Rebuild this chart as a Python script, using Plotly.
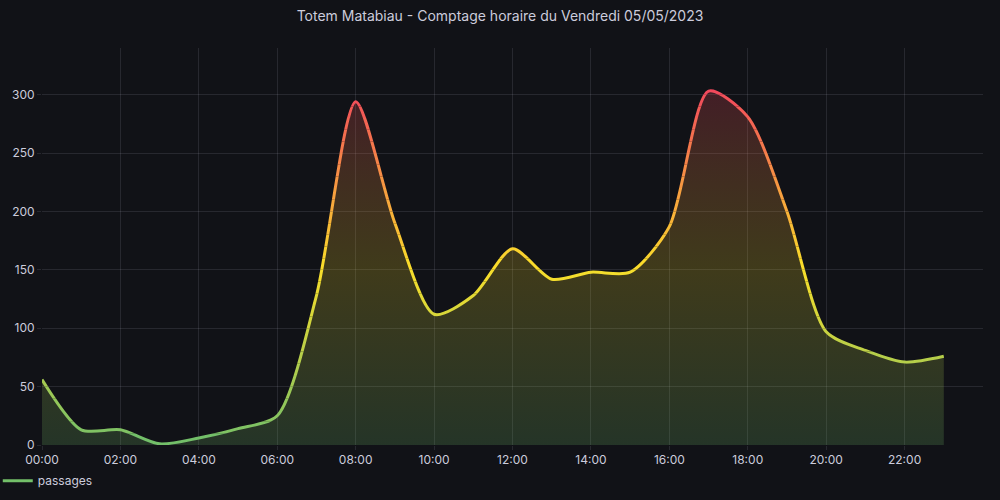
import plotly.graph_objects as go

# ---- data ----
day = "2023-05-05"
hours = ["00:00", "01:00", "02:00", "03:00", "04:00", "05:00", "06:00", "07:00",
         "08:00", "09:00", "10:00", "11:00", "12:00", "13:00", "14:00", "15:00",
         "16:00", "17:00", "18:00", "19:00", "20:00", "21:00", "22:00", "23:00"]
passages = [56, 13, 13, 1, 6, 14, 25, 128, 294, 190, 112, 128,
            168, 142, 148, 148, 187, 303, 281, 200, 97, 81, 71, 76]
tick_hours = ["00:00", "02:00", "04:00", "06:00", "08:00", "10:00",
              "12:00", "14:00", "16:00", "18:00", "20:00", "22:00"]
y_ticks = [0, 50, 100, 150, 200, 250, 300]
series_name = "passages"
title = "Totem Matabiau - Comptage horaire du Vendredi 05/05/2023"

times = [f"{day} {h}" for h in hours]
tick_times = [f"{day} {h}" for h in tick_hours]
x_range = [f"{day} 00:00", "2023-05-06 00:00"]

# ---- style ----
BG = "#111217"
TEXT = "#ccccdc"
GRID = "rgba(204,204,220,0.12)"
FONT = "Inter, Roboto, sans-serif"
GREEN = (115, 191, 105)
YELLOW = (250, 222, 42)
RED = (242, 73, 92)


def scheme(f):
    f = max(0.0, min(1.0, f))
    if f < 0.5:
        a, b, t = GREEN, YELLOW, f / 0.5
    else:
        a, b, t = YELLOW, RED, (f - 0.5) / 0.5
    return "rgb(%d,%d,%d)" % tuple(round(a[i] + (b[i] - a[i]) * t) for i in range(3))


Y_MAX = 340
vmax = max(passages)
N_BANDS = 34
band = Y_MAX / N_BANDS
SMOOTH = 0.75

fig = go.Figure()

# gradient area
fig.add_trace(go.Scatter(
    x=times, y=passages, mode="lines",
    line=dict(width=0, shape="spline", smoothing=SMOOTH, simplify=False),
    fill="tozeroy",
    fillgradient=dict(
        type="vertical",
        colorscale=[[0, "rgba(115,191,105,0.2)"],
                    [0.5, "rgba(250,222,42,0.2)"],
                    [1, "rgba(242,73,92,0.22)"]],
        start=0, stop=vmax),
    showlegend=False, hoverinfo="skip", xaxis="x", yaxis="y"))

layout_axes = {}
# line colored by value: same line drawn in stacked clipped bands
for k in range(N_BANDS):
    lo = k * band
    hi = lo + band
    color = scheme((lo + band / 2) / vmax)
    fig.add_trace(go.Scatter(
        x=times, y=passages, mode="lines", name=series_name,
        line=dict(color=color if k > 0 else "rgb(115,191,105)", width=3,
                  shape="spline", smoothing=SMOOTH, simplify=False),
        showlegend=(k == 0), xaxis="x2", yaxis=f"y{k + 2}"))
    layout_axes[f"yaxis{k + 2}"] = dict(
        domain=[k / N_BANDS, (k + 1) / N_BANDS], range=[lo, hi],
        visible=False, showgrid=False, zeroline=False, anchor="x2", fixedrange=True)

fig.update_layout(
    width=1000, height=500,
    paper_bgcolor=BG, plot_bgcolor="rgba(0,0,0,0)",
    font=dict(family=FONT, color=TEXT, size=12),
    margin=dict(l=42, r=17, t=48, b=55, autoexpand=False),
    title=dict(text=title, x=0.5, xref="container", xanchor="center",
               y=1 - 16 / 500, yref="container", yanchor="middle",
               font=dict(size=14, color=TEXT, family=FONT)),
    xaxis=dict(type="date", range=x_range, domain=[0, 1], tickvals=tick_times,
               ticktext=tick_hours, showgrid=True, gridcolor=GRID, gridwidth=1,
               zeroline=False, showline=False, ticks="outside", ticklen=4,
               tickcolor=GRID, tickfont=dict(size=12, color=TEXT), anchor="y",
               automargin=False),
    xaxis2=dict(type="date", range=x_range, domain=[0, 1], visible=False,
                showgrid=False, zeroline=False, anchor="y2", fixedrange=True),
    yaxis=dict(range=[0, Y_MAX], domain=[0, 1], tickvals=y_ticks, showgrid=True,
               gridcolor=GRID, gridwidth=1, zeroline=False, showline=False,
               ticks="outside", ticklen=4, tickcolor=GRID,
               tickfont=dict(size=12, color=TEXT), anchor="x", automargin=False),
    legend=dict(orientation="h", x=-0.047, xanchor="left", y=-0.09,
                yanchor="middle", font=dict(size=12, color=TEXT),
                bgcolor="rgba(0,0,0,0)"),
    showlegend=True,
    hovermode=False,
    **layout_axes,
)

page_js = ("document.body.style.margin='0';"
           "document.body.style.backgroundColor='#111217';"
           "document.body.style.overflow='hidden';")
fig.write_html("out.html", post_script=page_js,
               config={"displayModeBar": False, "staticPlot": True})
